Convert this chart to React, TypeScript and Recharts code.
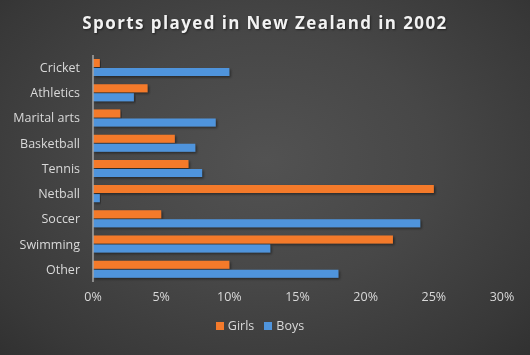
import { BarChart, Bar, XAxis, YAxis, Legend } from 'recharts';

const sports = ['Cricket', 'Athletics', 'Marital arts', 'Basketball', 'Tennis', 'Netball', 'Soccer', 'Swimming', 'Other'];
const girls = [0.5, 4, 2, 6, 7, 25, 5, 22, 10];
const boys = [10, 3, 9, 7.5, 8, 0.5, 24, 13, 18];
const pctTicks = [0, 5, 10, 15, 20, 25, 30];
const seriesOrder = ['Girls', 'Boys'];

const data = sports.map((name, i) => ({ name, Girls: girls[i], Boys: boys[i] }));

const FONT = '"Open Sans", "DejaVu Sans", sans-serif';
const TEXT = '#d9d9d9';

export default function App() {
    return (
        <div
            style={{
                position: 'fixed', left: 0, top: 0, width: 530, height: 355,
                background: 'radial-gradient(ellipse at 50% 45%, #525252 0%, #474747 45%, #383838 85%, #313131 100%)',
                fontFamily: FONT,
            }}
        >
            <div
                style={{
                    position: 'absolute', top: 11, left: 0, width: 530, textAlign: 'center',
                    color: '#f2f2f2', fontSize: 17, fontWeight: 700, letterSpacing: 1.4,
                    textShadow: '1px 1px 2px rgba(0,0,0,0.5)',
                }}
            >
                Sports played in New Zealand in 2002
            </div>
            <BarChart
                width={530}
                height={355}
                data={data}
                layout="vertical"
                margin={{ top: 55, right: 28, left: 0, bottom: 22 }}
                barSize={8}
                barGap={1}
                barCategoryGap={4}
            >
                <defs>
                    <filter id="shadow" x="-5%" y="-30%" width="110%" height="180%">
                        <feDropShadow dx="1.5" dy="1.5" stdDeviation="1" floodColor="#000" floodOpacity="0.45" />
                    </filter>
                </defs>
                <XAxis
                    type="number"
                    domain={[0, 30]}
                    ticks={pctTicks}
                    tickFormatter={(v: number) => `${v}%`}
                    axisLine={false}
                    tickLine={false}
                    tickSize={8}
                    tickMargin={2}
                    height={31}
                    tick={{ fill: TEXT, fontSize: 12.5, fontFamily: FONT }}
                />
                <YAxis
                    type="category"
                    dataKey="name"
                    width={93}
                    axisLine={{ stroke: '#a6a6a6', strokeWidth: 1.5 }}
                    tickLine={false}
                    tickSize={10}
                    tickMargin={3}
                    tick={{ fill: TEXT, fontSize: 12.5, fontFamily: FONT }}
                />
                <Legend
                    verticalAlign="bottom"
                    height={20}
                    iconType="square"
                    iconSize={8}
                    wrapperStyle={{ left: 0, width: 530 }}
                    itemSorter={(item: any) => seriesOrder.indexOf(String(item.dataKey))}
                    formatter={(value: string) => <span style={{ color: TEXT, fontSize: 12.5 }}>{value}</span>}
                />
                <Bar dataKey="Girls" fill="#f47a2b" filter="url(#shadow)" isAnimationActive={false} />
                <Bar dataKey="Boys" fill="#4f94dc" filter="url(#shadow)" isAnimationActive={false} />
            </BarChart>
        </div>
    );
}
